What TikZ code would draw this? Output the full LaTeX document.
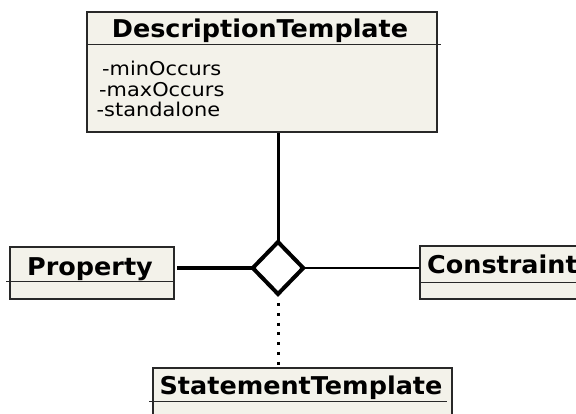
\documentclass[tikz,border=0pt]{standalone}
\usepackage{fontspec}
\setmainfont{DejaVu Sans}
\newfontfamily\namefont[FakeStretch=1.04]{DejaVu Sans}
\newfontfamily\attrfont[FakeStretch=1.1]{DejaVu Sans}
\usetikzlibrary{shapes.geometric}
\pgfdeclarelayer{bg}
\pgfsetlayers{bg,main}
\definecolor{classfill}{RGB}{243,242,234}
\definecolor{classline}{RGB}{40,40,40}
\tikzset{
  classbox/.style={draw=classline, line width=1.6pt, fill=classfill, inner sep=0pt},
  classname/.style={anchor=base, inner sep=0pt, font=\namefont\bfseries\fontsize{24.5pt}{29pt}\selectfont},
  attr/.style={anchor=base west, inner sep=0pt, font=\attrfont\fontsize{19pt}{21pt}\selectfont},
  divline/.style={draw=classline, line width=1.2pt}
}

\begin{document}
\begin{tikzpicture}
        \useasboundingbox (0pt, 0pt) rectangle (576pt, 414pt);
        \node (desc) [classbox, minimum width=350pt, minimum height=120pt] at (262pt, 342pt) {};
        \node (prop) [classbox, minimum width=164pt, minimum height=52pt] at (92pt, 141pt) {};
        \node (cons) [classbox, minimum width=170pt, minimum height=53pt] at (505pt, 141.5pt) {};
        \node (stmt) [classbox, minimum width=299pt, minimum height=68pt] at (302.5pt, 12pt) {};
        \node (descname) [classname] at (260pt, 376pt) {DescriptionTemplate};
        \node (propname) [classname] at (90pt, 138pt) {Property};
        \node (consname) [classname, anchor=base west] at (427pt, 140.5pt) {Constraint};
        \node (stmtname) [classname] at (301pt, 19pt) {StatementTemplate};
        \node (a0) [attr] at (102pt, 338pt) {-minOccurs};
        \node (a1) [attr] at (99pt, 317.5pt) {-maxOccurs};
        \node (a2) [attr] at (96.5pt, 297pt) {-standalone};
        \draw [divline] (desc.north west) ++(0pt, -33pt) -- ++(355pt, 0pt);
        \draw [divline] (prop.north west) ++(-3pt, -35pt) -- ++(167pt, 0pt);
        \draw [divline] (cons.north west) ++(0pt, -37pt) -- ++(170pt, 0pt);
        \draw [divline] (stmt.north west) ++(-3pt, -34pt) -- ++(298pt, 0pt);
        \node (dia) [diamond, draw=black, line width=4pt, fill=white, inner sep=0pt, outer sep=0pt,
                minimum width=50.5pt, minimum height=52pt] at (278pt, 146pt) {};
        \begin{pgfonlayer}{bg}
                \draw [line width=3pt] (dia.north) -- (dia.north |- desc.south);
                \draw [line width=4.5pt, shorten >=2.5pt] (dia.west) -- (dia.west -| prop.east);
                \draw [line width=2.5pt] (dia.east) -- (dia.east -| cons.west);
                \draw [line width=3pt, dash pattern=on 3pt off 6.8pt, shorten <=9pt] (dia.south) -- (dia.south |- stmt.north);
        \end{pgfonlayer}
\end{tikzpicture}
\end{document}
